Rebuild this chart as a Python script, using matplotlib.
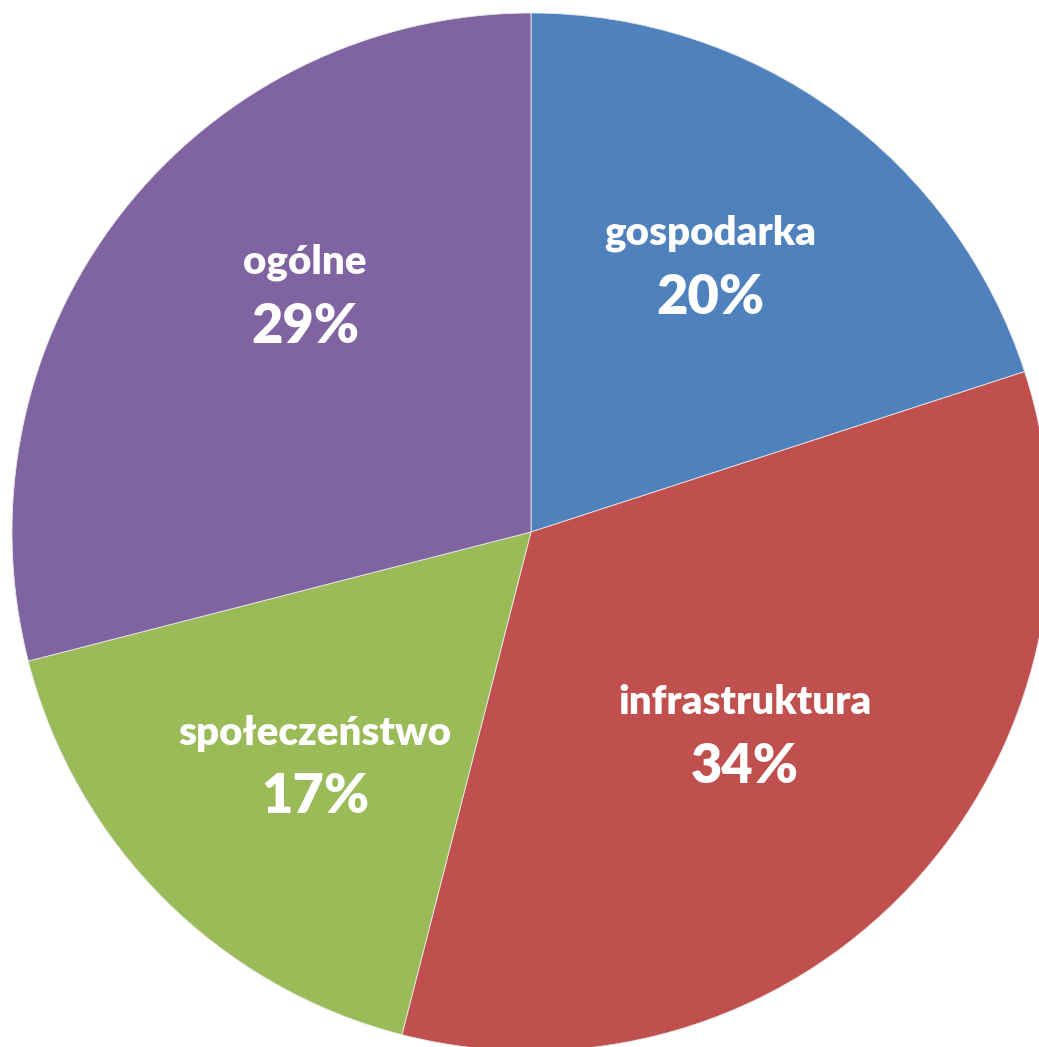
import numpy as np
import matplotlib
matplotlib.use("Agg")
from matplotlib import pyplot as plt

categories = ["gospodarka", "infrastruktura", "społeczeństwo", "ogólne"]
shares = [20, 34, 17, 29]
colors = ["#4F81BD", "#C0504D", "#9BBB59", "#8064A2"]

W, H, DPI = 1039, 1047, 100
cx, cy, R = 531, 532, 519  # pie centre / radius in pixels

# small nudges of the labels from the wedge mid-angle (units of radius)
nudge = [(-0.013, 0.02), (-0.033, 0.027), (0.015, -0.018), (0.047, 0.083)]

fig = plt.figure(figsize=(W / DPI, H / DPI), dpi=DPI)
ax = fig.add_axes([0, 0, 1, 1])
wedges, _ = ax.pie(
    shares,
    colors=colors,
    startangle=90,
    counterclock=False,
    radius=1,
    wedgeprops=dict(edgecolor="#e8e8e8", linewidth=0.6),
)
ax.set_xlim(-cx / R, (W - cx) / R)
ax.set_ylim(-(H - cy) / R, cy / R)
ax.set_aspect("auto")
ax.axis("off")

label_r = 0.61
for w, name, val, (dx, dy) in zip(wedges, categories, shares, nudge):
    ang = np.deg2rad((w.theta1 + w.theta2) / 2)
    x, y = label_r * np.cos(ang) + dx, label_r * np.sin(ang) + dy
    ax.text(x, y + 0.062, name, color="white", fontsize=29, fontweight="heavy",
            family="Lato", ha="center", va="center")
    ax.text(x, y - 0.062, f"{val}%", color="white", fontsize=39,
            fontweight="heavy", family="Lato", ha="center", va="center")

fig.savefig("out.png", dpi=DPI)
